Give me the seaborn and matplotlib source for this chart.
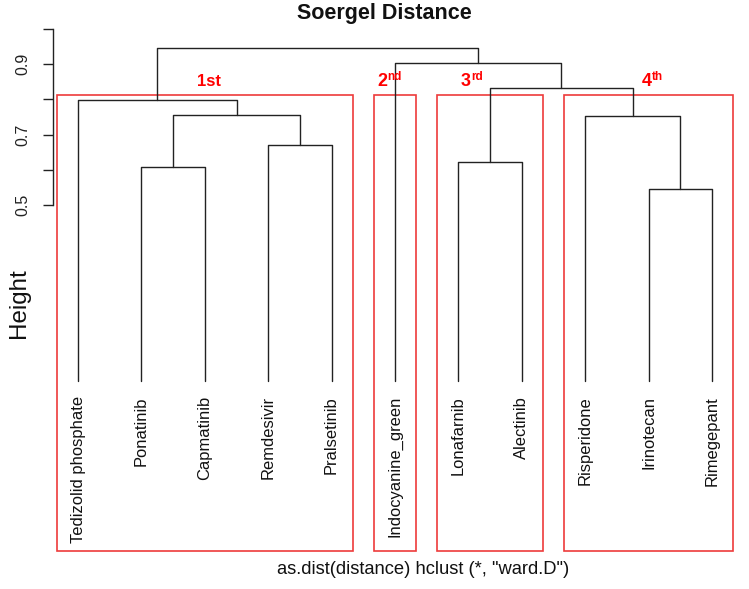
import numpy as np
import pandas as pd
import matplotlib
matplotlib.use("Agg")
import matplotlib.pyplot as plt
import seaborn as sns

# ---- data ----
leaves = ["Tedizolid phosphate", "Ponatinib", "Capmatinib", "Remdesivir", "Pralsetinib",
          "Indocyanine_green", "Lonafarnib", "Alectinib", "Risperidone", "Irinotecan", "Rimegepant"]
# R hclust-style merge table: negative = leaf (1-based), positive = earlier merge (1-based)
merge_left = [-10, -2, -7, -4, -9, 2, -1, 3, -6, 7]
merge_right = [-11, -3, -8, -5, 1, 4, 6, 5, 8, 9]
merge_height = [0.545, 0.608, 0.623, 0.671, 0.753, 0.756, 0.798, 0.832, 0.904, 0.946]

cluster_main = ["1st", "2", "3", "4"]
cluster_sup = ["", "nd", "rd", "th"]
cluster_first = [0, 5, 6, 8]
cluster_last = [4, 5, 7, 10]

y_ticks = [0.5, 0.6, 0.7, 0.8, 0.9, 1.0]
y_ticklabels = ["0.5", "", "0.7", "", "0.9", ""]

# ---- build segments ----
pos = {}
hgt = {}
for i in range(len(leaves)):
    pos[-(i + 1)] = float(i)
    hgt[-(i + 1)] = 0.0
rows = []
for k, (l, r, h) in enumerate(zip(merge_left, merge_right, merge_height), start=1):
    xl, xr = pos[l], pos[r]
    hl, hr = hgt[l], hgt[r]
    for j, (xx, yy) in enumerate([(xl, hl), (xl, h), (xr, h), (xr, hr)]):
        rows.append({"seg": k, "order": j, "x": xx, "y": yy})
    pos[k] = (xl + xr) / 2
    hgt[k] = h
seg_df = pd.DataFrame(rows)

# ---- figure ----
sns.set_style("white")
plt.rcParams["font.family"] = ["Liberation Sans", "DejaVu Sans"]
W, H = 749, 589
fig = plt.figure(figsize=(W / 100, H / 100), dpi=100)
ax = fig.add_axes([0, 0, 1, 1])
ax.patch.set_alpha(0)

X0, XS = 78.0, 63.4     # pixel of leaf 0, pixels per leaf
Y5, YS = 205.0, 352.0   # pixel of height 0.5, pixels per height unit
ax.set_xlim(-X0 / XS, (W - X0) / XS)
ax.set_ylim(0.5 - (H - Y5) / YS, 0.5 + Y5 / YS)

sns.lineplot(data=seg_df, x="x", y="y", units="seg", estimator=None, sort=False,
             color="#222222", linewidth=1.0, ax=ax)

# leaf labels
for i, name in enumerate(leaves):
    ax.text(i, -15 / YS, name, rotation=90, ha="center", va="top",
            fontsize=11.9, color="#111111")

# red cluster boxes and labels
pad = 0.335
box_top = 0.5 + (Y5 - 94.7) / YS
box_bot = 0.5 - (551 - Y5) / YS
lab_px = [209, 387, 471, 652]
for m, s, a, b, lp in zip(cluster_main, cluster_sup, cluster_first, cluster_last, lab_px):
    ax.add_patch(plt.Rectangle((a - pad, box_bot), (b - a) + 2 * pad, box_top - box_bot,
                               fill=False, edgecolor="#EE3B3B", linewidth=1.2))
    xd = (lp - X0) / XS
    yd = 0.5 + (Y5 - 86) / YS
    if s:
        ax.text(xd, yd, m, ha="right", va="baseline", color="#FF0000",
                fontsize=13, fontweight="bold")
        ax.text(xd, yd + 6 / YS, s, ha="left", va="baseline", color="#FF0000",
                fontsize=8.5, fontweight="bold")
    else:
        ax.text(xd, yd, m, ha="center", va="baseline", color="#FF0000",
                fontsize=12, fontweight="bold")

# y axis in R style
for sp in ["top", "right", "bottom"]:
    ax.spines[sp].set_visible(False)
ax.spines["left"].set_position(("data", (53 - X0) / XS))
ax.spines["left"].set_bounds(0.5, 1.0)
ax.spines["left"].set_color("#222222")
ax.spines["left"].set_linewidth(1.0)
ax.set_xticks([])
ax.set_yticks(y_ticks)
ax.set_yticklabels(y_ticklabels)
ax.tick_params(axis="y", direction="out", length=7.5, width=1.0, color="#222222",
               pad=9, labelsize=11.5, labelcolor="#222222", left=True)
for t in ax.get_yticklabels():
    t.set_rotation(90)
    t.set_va("center")
ax.set_xlabel("")
ax.set_ylabel("")

fig.text(384.5 / W, 1 - 14 / H, "Soergel Distance", ha="center", va="center",
         fontsize=15.5, fontweight="bold", color="#111111")
fig.text(19 / W, 1 - 303 / H, "Height", ha="center", va="center", rotation=90,
         fontsize=17.4, color="#111111")
fig.text(423 / W, 1 - 570 / H, "as.dist(distance) hclust (*, \"ward.D\")", ha="center",
         va="center", fontsize=13.2, color="#111111")

fig.savefig("out.png", dpi=100)
